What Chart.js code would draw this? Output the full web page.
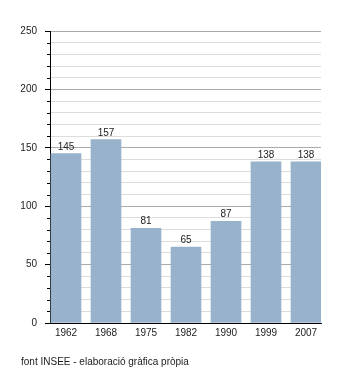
<!DOCTYPE html>
<html>
<head>
<meta charset="utf-8">
<script src="https://cdn.jsdelivr.net/npm/chart.js@4/dist/chart.umd.min.js"></script>
<style>
  html, body { margin: 0; padding: 0; background: #fff; }
  #wrap { position: relative; width: 350px; height: 373px; }
  #note { position: absolute; left: 21px; top: 356px; font: 10px "Liberation Sans", Arial, sans-serif; color: #222; white-space: nowrap; }
</style>
</head>
<body>
<div id="wrap">
  <canvas id="c" width="350" height="373"></canvas>
  <div id="note">font INSEE - elaboració gràfica pròpia</div>
</div>
<script>
const years = ['1962', '1968', '1975', '1982', '1990', '1999', '2007'];
const values = [145, 157, 81, 65, 87, 138, 138];
const yMax = 250;
const yStep = 10;
const yMajor = 50;

const FONT = '"Liberation Sans", Arial, sans-serif';

const valueLabels = {
  id: 'valueLabels',
  afterDatasetsDraw(chart) {
    const ctx = chart.ctx;
    const meta = chart.getDatasetMeta(0);
    ctx.save();
    ctx.font = '10px ' + FONT;
    ctx.fillStyle = '#222';
    ctx.textAlign = 'center';
    ctx.textBaseline = 'alphabetic';
    meta.data.forEach((el, i) => {
      ctx.fillText(String(values[i]), el.x, el.y - 4);
    });
    ctx.restore();
  }
};

const minorTicks = {
  id: 'minorTicks',
  afterDraw(chart) {
    const s = chart.scales.y;
    const ctx = chart.ctx;
    ctx.save();
    ctx.strokeStyle = '#000';
    ctx.lineWidth = 1;
    s.ticks.forEach(t => {
      if (t.value % yMajor !== 0) {
        const y = Math.round(s.getPixelForValue(t.value)) + 0.5;
        ctx.beginPath();
        ctx.moveTo(s.right - 3, y);
        ctx.lineTo(s.right, y);
        ctx.stroke();
      }
    });
    ctx.restore();
  }
};

new Chart(document.getElementById('c'), {
  type: 'bar',
  data: {
    datasets: [{
      data: values.map((v, i) => ({ x: i, y: v })),
      backgroundColor: '#98b2cc',
      borderWidth: 0,
      barThickness: 30
    }]
  },
  options: {
    responsive: false,
    animation: false,
    devicePixelRatio: 1,
    layout: { padding: { top: 31, right: 29, bottom: 20, left: 0 } },
    plugins: { legend: { display: false }, tooltip: { enabled: false } },
    scales: {
      x: {
        type: 'linear',
        offset: false,
        min: -0.4,
        max: 6.375,
        afterBuildTicks(s) { s.ticks = years.map((_, i) => ({ value: i })); },
        afterFit(s) { s.height = 30; },
        grid: { display: false, drawTicks: false, tickLength: 0, offset: false },
        border: { display: true, color: '#000', width: 1 },
        ticks: {
          autoSkip: false,
          maxRotation: 0,
          padding: 4,
          color: '#222',
          font: { family: FONT, size: 10 },
          callback: (v) => years[v]
        }
      },
      y: {
        min: 0,
        max: yMax,
        afterFit(s) { s.width = 50; },
        border: { display: true, color: '#000', width: 1 },
        grid: {
          color: (c) => (c.tick && c.tick.value % yMajor === 0) ? '#aaaaaa' : '#dddddd',
          tickColor: (c) => (c.tick && c.tick.value % yMajor === 0) ? '#000' : 'rgba(0,0,0,0)',
          tickLength: 5,
          drawTicks: true
        },
        ticks: {
          stepSize: yStep,
          autoSkip: false,
          padding: 8,
          color: '#222',
          font: { family: FONT, size: 10 },
          callback: (v) => (v % yMajor === 0 ? String(v) : '')
        }
      }
    }
  },
  plugins: [valueLabels, minorTicks]
});
</script>
</body>
</html>
